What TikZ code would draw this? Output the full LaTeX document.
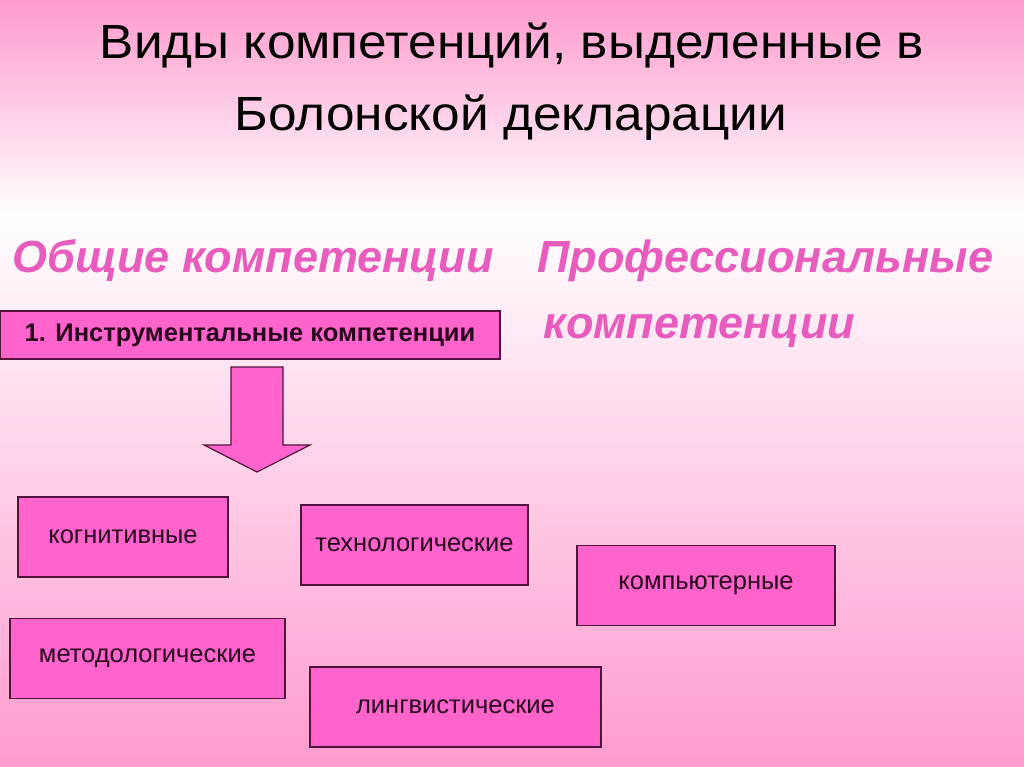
\documentclass[tikz,border=0pt]{standalone}
\usepackage{fontspec}
\setmainfont{Liberation Sans}
\newfontfamily\titlefont[FakeStretch=1.07]{Liberation Sans}
\definecolor{bgpink}{RGB}{255,155,206}
\definecolor{boxpink}{RGB}{255,100,204}
\definecolor{boxline}{RGB}{80,20,60}
\definecolor{headpink}{RGB}{232,92,190}
\definecolor{txtdark}{RGB}{40,0,30}
\tikzset{
  catbox/.style={draw=boxline, line width=1.3pt, fill=boxpink, minimum height=80pt, inner sep=0pt,
    text=txtdark, font=\fontsize{25.5}{30}\selectfont},
  headtext/.style={text=headpink, font=\fontsize{45}{54}\selectfont\bfseries\itshape, inner sep=0pt},
  titletext/.style={text=black, font=\titlefont\fontsize{48}{56}\selectfont, inner sep=0pt}
}
\begin{document}
\begin{tikzpicture}[x=1pt,y=-1pt]
\useasboundingbox (0,0) rectangle (1024,767);
\shade[top color=bgpink, bottom color=white] (0,0) rectangle (1024,215);
\shade[top color=white, bottom color=bgpink] (0,214.5) rectangle (1024,767);
% title
\node[titletext, anchor=base] (t1) at (512,59) {Виды компетенций, выделенные в};
\node[titletext, anchor=base] (t2) at (511,131) {Болонской декларации};
% headings
\node[headtext, anchor=base west] (gen) at (12,272) {Общие компетенции};
\node[headtext, anchor=base west] (prof1) at (537,272) {Профессиональные};
\node[headtext, anchor=base west] (prof2) at (543,338) {компетенции};
% instrumental box
\node[draw=boxline, line width=1.3pt, fill=boxpink, minimum width=500pt, minimum height=48pt, inner sep=0pt,
  font=\fontsize{25.5}{30}\selectfont\bfseries, text=txtdark] (instr) at (250,335) {1. Инструментальные компетенции};
% block arrow
\filldraw[draw=boxline, line width=1.2pt, fill=boxpink]
  (231,367) -- (283,367) -- (283,445) -- (310,445) -- (257,472) -- (204,445) -- (231,445) -- cycle;
% category boxes
\node[catbox, minimum width=210pt] (kog) at (123,537) {когнитивные};
\node[catbox, minimum width=227pt] (tech) at (414.5,545) {технологические};
\node[catbox, minimum width=258pt] (comp) at (706,585.5) {компьютерные};
\node[catbox, minimum width=275pt] (meth) at (147.5,658.5) {методологические};
\node[catbox, minimum width=291pt] (ling) at (455.5,707) {лингвистические};
\end{tikzpicture}
\end{document}
